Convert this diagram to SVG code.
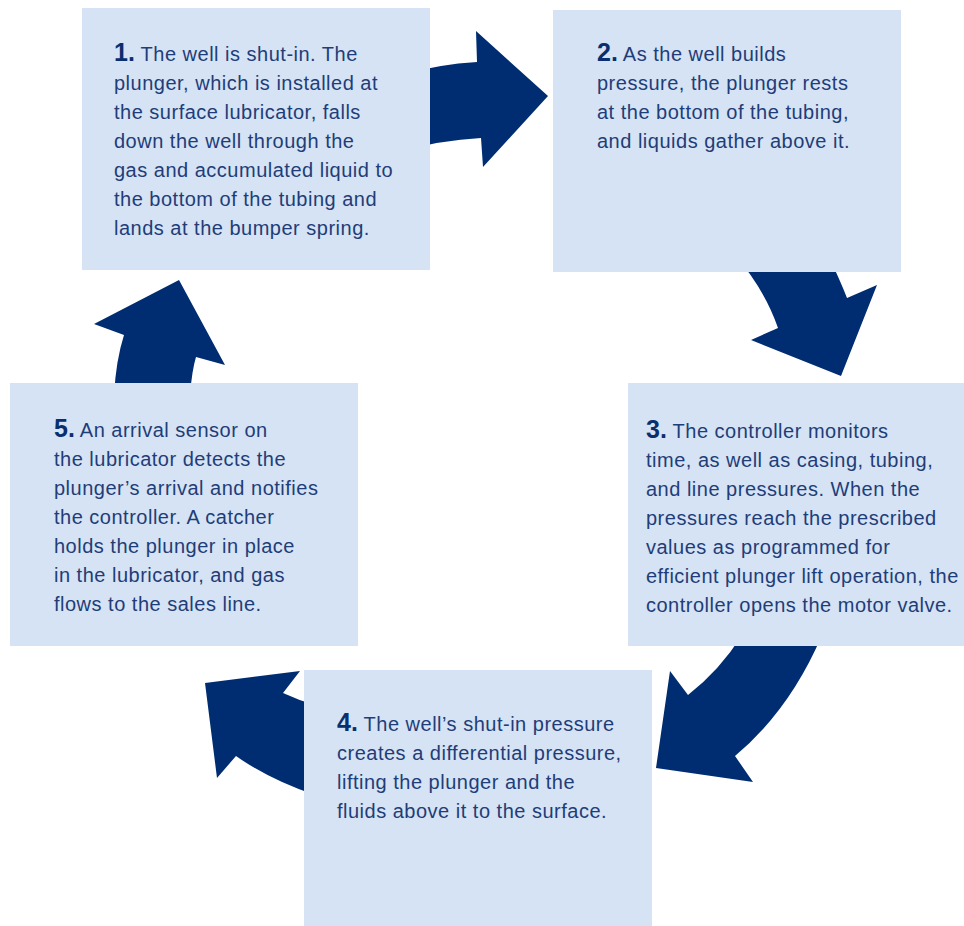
<svg xmlns="http://www.w3.org/2000/svg" width="964" height="926" viewBox="0 0 964 926">
<style>
.box{fill:#d5e3f4}
.arr{fill:#002d72}
.t{font-family:"Liberation Sans",Arial,sans-serif;font-size:20px;letter-spacing:0.5px;fill:#1f3d78}
.n{font-weight:bold;font-size:25px;letter-spacing:0;fill:#0a2f6e}
</style>
<rect width="964" height="926" fill="#ffffff"/>
<g id="connectors">
<path class="arr" d="M400 75 Q440 64 477 62 L476 31 L548 96 L483 167 L481 138 Q440 140 400 152 Z"/>
<path class="arr" d="M735 255 Q765 290 778 328 L751 340 L841 376 L877 285 L847 298 Q840 280 828 255 Z"/>
<path class="arr" d="M822 635 Q790 710 735 756 L753 782 L656 768 L670 671 L688 695 Q720 670 742 635 Z"/>
<path class="arr" d="M300 671 L205 683 L217 778 L236 756 Q270 780 315 795 L315 705 Q298 700 283 693 Z"/>
<path class="arr" d="M94 324 L179 280 L225 365 L196 357 Q192 370 190 395 L114 395 Q116 360 124 335 Z"/>
</g>
<g id="node1">
<rect class="box" x="82" y="8" width="348" height="262"/>
<text class="t" x="114" y="61"><tspan class="n">1.</tspan> The well is shut-in. The</text>
<text class="t" x="114" y="90">plunger, which is installed at</text>
<text class="t" x="114" y="119">the surface lubricator, falls</text>
<text class="t" x="114" y="148">down the well through the</text>
<text class="t" x="114" y="177">gas and accumulated liquid to</text>
<text class="t" x="114" y="206">the bottom of the tubing and</text>
<text class="t" x="114" y="235">lands at the bumper spring.</text>
</g>
<g id="node2">
<rect class="box" x="553" y="10" width="348" height="262"/>
<text class="t" x="597" y="61"><tspan class="n">2.</tspan> As the well builds</text>
<text class="t" x="597" y="90">pressure, the plunger rests</text>
<text class="t" x="597" y="119">at the bottom of the tubing,</text>
<text class="t" x="597" y="148">and liquids gather above it.</text>
</g>
<g id="node3">
<rect class="box" x="628" y="383" width="336" height="263"/>
<text class="t" x="646" y="438"><tspan class="n">3.</tspan> The controller monitors</text>
<text class="t" x="646" y="467">time, as well as casing, tubing,</text>
<text class="t" x="646" y="496">and line pressures. When the</text>
<text class="t" x="646" y="525">pressures reach the prescribed</text>
<text class="t" x="646" y="554">values as programmed for</text>
<text class="t" x="646" y="583">efficient plunger lift operation, the</text>
<text class="t" x="646" y="612">controller opens the motor valve.</text>
</g>
<g id="node4">
<rect class="box" x="304" y="670" width="348" height="256"/>
<text class="t" x="337" y="731"><tspan class="n">4.</tspan> The well’s shut-in pressure</text>
<text class="t" x="337" y="760">creates a differential pressure,</text>
<text class="t" x="337" y="789">lifting the plunger and the</text>
<text class="t" x="337" y="818">fluids above it to the surface.</text>
</g>
<g id="node5">
<rect class="box" x="10" y="383" width="348" height="263"/>
<text class="t" x="54" y="437"><tspan class="n">5.</tspan> An arrival sensor on</text>
<text class="t" x="54" y="466">the lubricator detects the</text>
<text class="t" x="54" y="495">plunger’s arrival and notifies</text>
<text class="t" x="54" y="524">the controller. A catcher</text>
<text class="t" x="54" y="553">holds the plunger in place</text>
<text class="t" x="54" y="582">in the lubricator, and gas</text>
<text class="t" x="54" y="611">flows to the sales line.</text>
</g>
</svg>
